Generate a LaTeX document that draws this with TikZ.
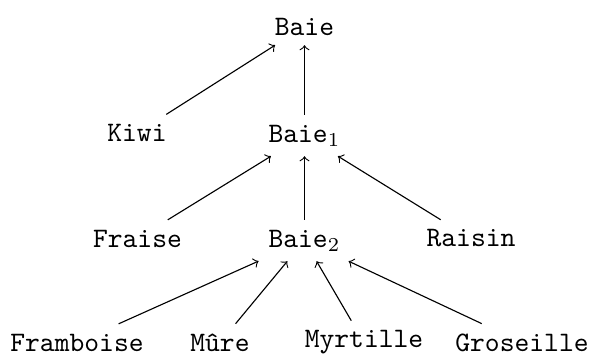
\documentclass[tikz,border=0pt]{standalone}
\usepackage{fontspec}
\begin{document}
\begin{tikzpicture}[x=0.3546pt,y=-0.3546pt,
  lbl/.style={font=\ttfamily},
  edge/.style={->}]
\useasboundingbox (0,0) rectangle (592,354);
\node[lbl] (baie) at (304.5,26.5) {Baie};
\node[lbl] (kiwi) at (137,133) {Kiwi};
\node[lbl] (baie1) at (304.5,135.5) {Baie$_1$};
\node[lbl] (fraise) at (137.5,238.5) {Fraise};
\node[lbl] (baie2) at (304.5,240.5) {Baie$_2$};
\node[lbl] (raisin) at (471,238.5) {Raisin};
\node[lbl] (framboise) at (77,342.5) {Framboise};
\node[lbl] (mure) at (220,342.5) {Mûre};
\node[lbl] (myrtille) at (364,342.5) {Myrtille};
\node[lbl] (groseille) at (522,342.5) {Groseille};
\draw[edge] (kiwi) -- (baie);
\draw[edge] (baie1) -- (baie);
\draw[edge] (fraise) -- (baie1);
\draw[edge] (baie2) -- (baie1);
\draw[edge] (raisin) -- (baie1);
\draw[edge] (framboise) -- (baie2);
\draw[edge] (mure) -- (baie2);
\draw[edge] (myrtille) -- (baie2);
\draw[edge] (groseille) -- (baie2);
\end{tikzpicture}
\end{document}
